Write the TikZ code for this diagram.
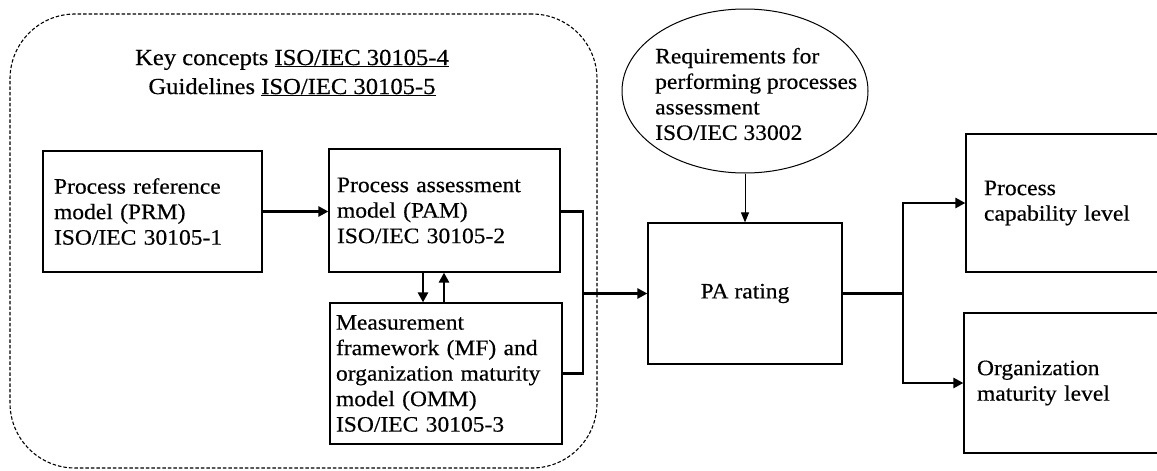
\documentclass[tikz,border=0pt]{standalone}
\usepackage{fontspec}
\setmainfont[FakeStretch=1.07,FakeBold=0.4]{Liberation Serif}
\usetikzlibrary{arrows.meta,shapes.geometric}
\begin{document}
\begin{tikzpicture}[x=1pt,y=-1pt,
  box/.style={draw=black,line width=1.2pt,inner ysep=0pt,align=left,
    font=\fontsize{22}{25.5}\selectfont},
  conn/.style={line width=2.6pt},
  arr/.style={conn,-{Triangle[length=10pt,width=10pt]}},
  thinarr/.style={line width=1pt,-{Triangle[length=10pt,width=8pt]}},
  txt/.style={inner sep=0pt,align=left,font=\fontsize{22}{25.5}\selectfont}]
\useasboundingbox (0,0) rectangle (1157,471);

% dashed group
\node[draw, line width=1.1pt, dash pattern=on 3.5pt off 2pt, rounded corners=65pt,
  minimum width=587pt, minimum height=454pt, inner sep=0pt] (grp) at (303.5,241) {};
\node[inner sep=0pt, align=center, font=\fontsize{23}{29}\selectfont] (title) at (292,73)
  {Key concepts \underline{ISO/IEC 30105-4}\\Guidelines \underline{ISO/IEC 30105-5}};

% boxes
\node[box, minimum width=219pt, minimum height=121pt, inner xsep=11pt, text width=197pt]
  (prm) at (152.5,211.5) {Process reference\\model (PRM)\\ISO/IEC 30105-1};
\node[box, minimum width=231pt, minimum height=123pt, inner xsep=8pt, text width=215pt]
  (pam) at (444.5,210.5) {Process assessment\\model (PAM)\\ISO/IEC 30105-2};
\node[box, minimum width=232pt, minimum height=141pt, inner xsep=6pt, text width=220pt]
  (mf) at (446,373.5) {Measurement\\framework (MF) and\\organization maturity\\model (OMM)\\ISO/IEC 30105-3};
\node[box, minimum width=194pt, minimum height=141pt, align=center]
  (pa) at (745,293.5) {PA rating};
\node[box, minimum width=250pt, minimum height=138pt, inner xsep=18pt, text width=214pt]
  (pcl) at (1091,203) {Process\\capability level};
\node[box, minimum width=250pt, minimum height=140pt, inner xsep=13pt, text width=224pt]
  (oml) at (1089,383) {Organization\\maturity level};

% ellipse
\node[draw, ellipse, line width=1pt, minimum width=246pt, minimum height=164pt, inner sep=0pt]
  (req) at (745,91) {};
\node[txt, anchor=west] (reqtxt) at (655,94)
  {Requirements for\\performing processes\\assessment\\ISO/IEC 33002};

% connectors
\coordinate (dn) at (423,0);
\coordinate (up) at (444,0);
\coordinate (bx) at (583,293.5);
\coordinate (jx) at (903,293.5);

\draw[arr] (prm.east) -- (pam.west |- prm.east);
\draw[arr] (dn |- pam.south) -- (dn |- mf.north);
\draw[arr] (up |- mf.north) -- (up |- pam.south);
\draw[conn] (pam.east |- prm.east) -- (bx |- prm.east) -- (bx |- mf.east) -- (mf.east);
\draw[arr] (bx) -- (pa.west);
\draw[thinarr] (req.south) -- (pa.north);
\draw[conn] (pa.east) -- (jx);
\draw[arr] (jx) -- (jx |- pcl.west) -- (pcl.west);
\draw[arr] (jx) -- (jx |- oml.west) -- (oml.west);
\end{tikzpicture}
\end{document}
